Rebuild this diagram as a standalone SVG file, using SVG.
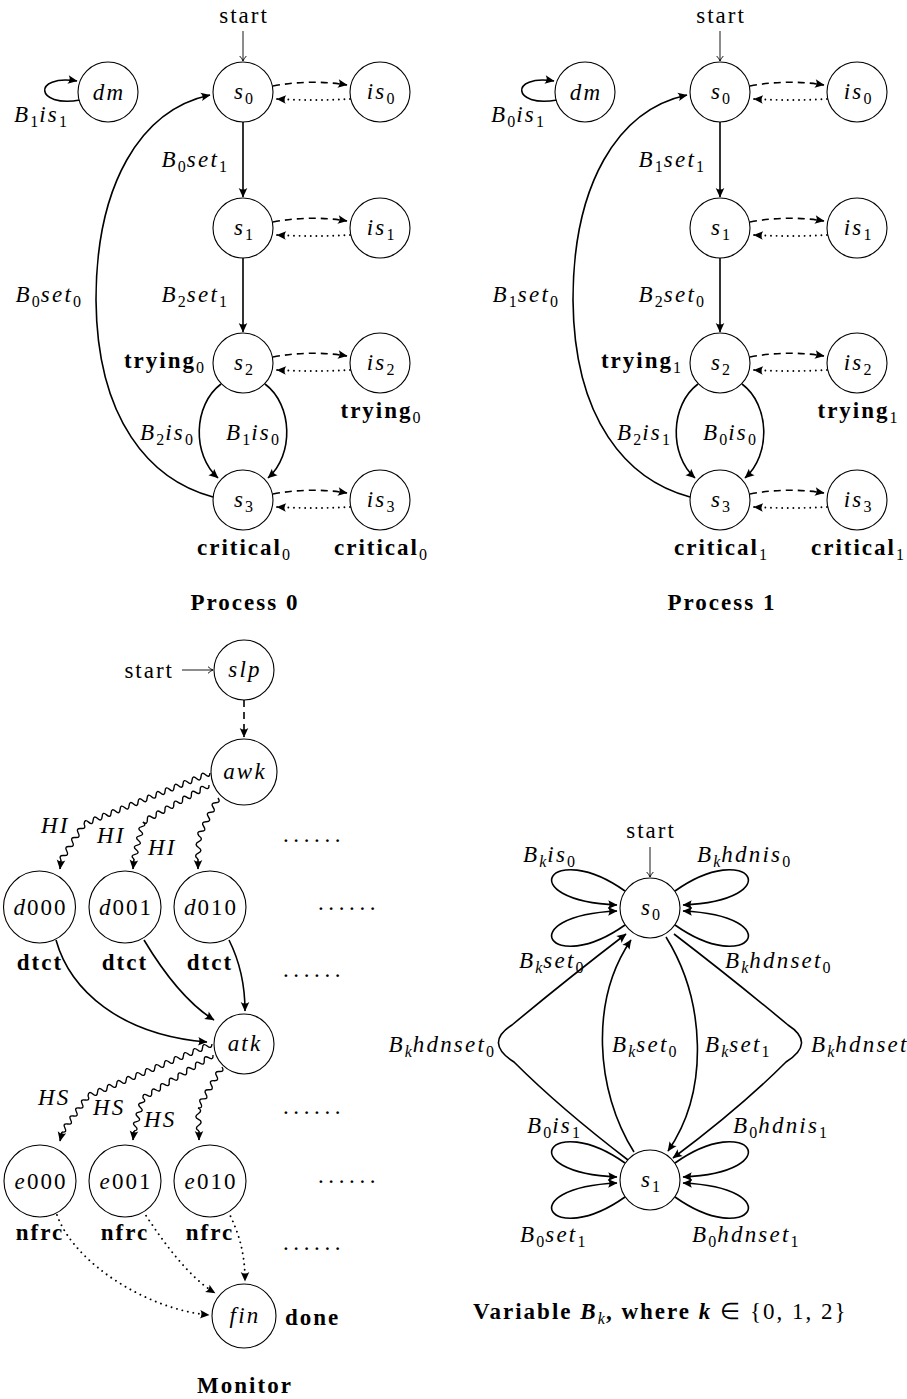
<svg xmlns="http://www.w3.org/2000/svg" width="907" height="1399" viewBox="0 0 907 1399">
<style>
text { font-family: "Liberation Serif", serif; font-size: 23px; fill: #000; letter-spacing: 2px; }
.m { font-style: italic; letter-spacing: 2.2px; }
.r { font-style: normal; }
.b { font-weight: bold; letter-spacing: 2px; }
.n { font-style: normal; font-weight: normal; font-size: 16px; letter-spacing: 1px; }
.k { font-style: italic; font-weight: normal; font-size: 16px; letter-spacing: 1px; }
.c { text-anchor: middle; }
.e { text-anchor: end; }
.dots { letter-spacing: 4.6px; }
.nd { fill: #fff; stroke: #000; stroke-width: 1.1; }
.ed { fill: none; stroke: #000; stroke-width: 1.6; }
.da { stroke-dasharray: 7 5; }
.do { stroke-dasharray: 0.01 5.6; stroke-linecap: round; stroke-width: 1.9; }
.th { fill: none; stroke: #000; stroke-width: 0.9; }
.wv { fill: none; stroke: #000; stroke-width: 1.4; }
</style>
<defs>
<marker id="ah" viewBox="-10 -6 12 12" refX="0" refY="0" markerWidth="12" markerHeight="12" markerUnits="userSpaceOnUse" orient="auto">
<path d="M0.5,0 L-9,-4.3 Q-6,0 -9,4.3 Z" fill="#000"/>
</marker>
<marker id="ao" viewBox="-7 -5 8 10" refX="0" refY="0" markerWidth="8" markerHeight="10" markerUnits="userSpaceOnUse" orient="auto">
<path d="M-5,-3.3 Q-2,-0.6 0,0 Q-2,0.6 -5,3.3" fill="none" stroke="#000" stroke-width="0.9"/>
</marker>
</defs>

<g id="process0">
<g id="p0-connectors">
<path class="th" d="M243,31 L243,61" marker-end="url(#ao)"/>
<path class="ed" d="M80,100 C35,108 32,74 77,81" marker-end="url(#ah)"/>
<path class="ed" d="M243,122 L243,197" marker-end="url(#ah)"/>
<path class="ed" d="M243,258 L243,332" marker-end="url(#ah)"/>
<path class="ed" d="M221,384 C193,405 192,455 218,478" marker-end="url(#ah)"/>
<path class="ed" d="M265,384 C293,405 294,455 268,478" marker-end="url(#ah)"/>
<path class="ed" d="M213,497 C150,480 97,420 96,300 C96,185 140,110 210,95" marker-end="url(#ah)"/>
<path class="ed da" d="M273,86 Q310,79 347,85" marker-end="url(#ah)"/>
<path class="ed do" d="M350,99 Q314,101 277,99" marker-end="url(#ah)"/>
<path class="ed da" d="M273,222 Q310,215 347,221" marker-end="url(#ah)"/>
<path class="ed do" d="M350,235 Q314,237 277,235" marker-end="url(#ah)"/>
<path class="ed da" d="M273,357 Q310,350 347,356" marker-end="url(#ah)"/>
<path class="ed do" d="M350,370 Q314,372 277,370" marker-end="url(#ah)"/>
<path class="ed da" d="M273,494 Q310,487 347,493" marker-end="url(#ah)"/>
<path class="ed do" d="M350,507 Q314,509 277,507" marker-end="url(#ah)"/>
</g>
<g id="p0-dm"><circle class="nd" cx="108" cy="92" r="30"/><text class="m c" x="109" y="100">dm</text></g>
<g id="p0-s0"><circle class="nd" cx="243" cy="92" r="30"/><text class="m c" x="244" y="99">s<tspan class="n" dy="5">0</tspan></text></g>
<g id="p0-is0"><circle class="nd" cx="380" cy="92" r="30"/><text class="m c" x="381" y="99">is<tspan class="n" dy="5">0</tspan></text></g>
<g id="p0-s1"><circle class="nd" cx="243" cy="228" r="30"/><text class="m c" x="244" y="235">s<tspan class="n" dy="5">1</tspan></text></g>
<g id="p0-is1"><circle class="nd" cx="380" cy="228" r="30"/><text class="m c" x="381" y="235">is<tspan class="n" dy="5">1</tspan></text></g>
<g id="p0-s2"><circle class="nd" cx="243" cy="363" r="30"/><text class="m c" x="244" y="370">s<tspan class="n" dy="5">2</tspan></text></g>
<g id="p0-is2"><circle class="nd" cx="380" cy="363" r="30"/><text class="m c" x="381" y="370">is<tspan class="n" dy="5">2</tspan></text></g>
<g id="p0-s3"><circle class="nd" cx="243" cy="500" r="30"/><text class="m c" x="244" y="507">s<tspan class="n" dy="5">3</tspan></text></g>
<g id="p0-is3"><circle class="nd" cx="380" cy="500" r="30"/><text class="m c" x="381" y="507">is<tspan class="n" dy="5">3</tspan></text></g>
<g id="p0-labels">
<text class="r c" x="244" y="23">start</text>
<text class="m" x="14" y="122">B<tspan class="n" dy="5">1</tspan><tspan dy="-5">is</tspan><tspan class="n" dy="5">1</tspan></text>
<text class="m e" x="228" y="167">B<tspan class="n" dy="5">0</tspan><tspan dy="-5">set</tspan><tspan class="n" dy="5">1</tspan></text>
<text class="m e" x="228" y="302">B<tspan class="n" dy="5">2</tspan><tspan dy="-5">set</tspan><tspan class="n" dy="5">1</tspan></text>
<text class="m e" x="82" y="302">B<tspan class="n" dy="5">0</tspan><tspan dy="-5">set</tspan><tspan class="n" dy="5">0</tspan></text>
<text class="b e" x="205" y="368">trying<tspan class="n" dy="5">0</tspan></text>
<text class="b c" x="381" y="418">trying<tspan class="n" dy="5">0</tspan></text>
<text class="m e" x="194" y="440">B<tspan class="n" dy="5">2</tspan><tspan dy="-5">is</tspan><tspan class="n" dy="5">0</tspan></text>
<text class="m" x="226" y="440">B<tspan class="n" dy="5">1</tspan><tspan dy="-5">is</tspan><tspan class="n" dy="5">0</tspan></text>
<text class="b c" x="244" y="555">critical<tspan class="n" dy="5">0</tspan></text>
<text class="b c" x="381" y="555">critical<tspan class="n" dy="5">0</tspan></text>
<text class="b c" x="245" y="610">Process 0</text>
</g>
</g>

<g id="process1" transform="translate(477,0)">
<g id="p1-connectors">
<path class="th" d="M243,31 L243,61" marker-end="url(#ao)"/>
<path class="ed" d="M80,100 C35,108 32,74 77,81" marker-end="url(#ah)"/>
<path class="ed" d="M243,122 L243,197" marker-end="url(#ah)"/>
<path class="ed" d="M243,258 L243,332" marker-end="url(#ah)"/>
<path class="ed" d="M221,384 C193,405 192,455 218,478" marker-end="url(#ah)"/>
<path class="ed" d="M265,384 C293,405 294,455 268,478" marker-end="url(#ah)"/>
<path class="ed" d="M213,497 C150,480 97,420 96,300 C96,185 140,110 210,95" marker-end="url(#ah)"/>
<path class="ed da" d="M273,86 Q310,79 347,85" marker-end="url(#ah)"/>
<path class="ed do" d="M350,99 Q314,101 277,99" marker-end="url(#ah)"/>
<path class="ed da" d="M273,222 Q310,215 347,221" marker-end="url(#ah)"/>
<path class="ed do" d="M350,235 Q314,237 277,235" marker-end="url(#ah)"/>
<path class="ed da" d="M273,357 Q310,350 347,356" marker-end="url(#ah)"/>
<path class="ed do" d="M350,370 Q314,372 277,370" marker-end="url(#ah)"/>
<path class="ed da" d="M273,494 Q310,487 347,493" marker-end="url(#ah)"/>
<path class="ed do" d="M350,507 Q314,509 277,507" marker-end="url(#ah)"/>
</g>
<g id="p1-dm"><circle class="nd" cx="108" cy="92" r="30"/><text class="m c" x="109" y="100">dm</text></g>
<g id="p1-s0"><circle class="nd" cx="243" cy="92" r="30"/><text class="m c" x="244" y="99">s<tspan class="n" dy="5">0</tspan></text></g>
<g id="p1-is0"><circle class="nd" cx="380" cy="92" r="30"/><text class="m c" x="381" y="99">is<tspan class="n" dy="5">0</tspan></text></g>
<g id="p1-s1"><circle class="nd" cx="243" cy="228" r="30"/><text class="m c" x="244" y="235">s<tspan class="n" dy="5">1</tspan></text></g>
<g id="p1-is1"><circle class="nd" cx="380" cy="228" r="30"/><text class="m c" x="381" y="235">is<tspan class="n" dy="5">1</tspan></text></g>
<g id="p1-s2"><circle class="nd" cx="243" cy="363" r="30"/><text class="m c" x="244" y="370">s<tspan class="n" dy="5">2</tspan></text></g>
<g id="p1-is2"><circle class="nd" cx="380" cy="363" r="30"/><text class="m c" x="381" y="370">is<tspan class="n" dy="5">2</tspan></text></g>
<g id="p1-s3"><circle class="nd" cx="243" cy="500" r="30"/><text class="m c" x="244" y="507">s<tspan class="n" dy="5">3</tspan></text></g>
<g id="p1-is3"><circle class="nd" cx="380" cy="500" r="30"/><text class="m c" x="381" y="507">is<tspan class="n" dy="5">3</tspan></text></g>
<g id="p1-labels">
<text class="r c" x="244" y="23">start</text>
<text class="m" x="14" y="122">B<tspan class="n" dy="5">0</tspan><tspan dy="-5">is</tspan><tspan class="n" dy="5">1</tspan></text>
<text class="m e" x="228" y="167">B<tspan class="n" dy="5">1</tspan><tspan dy="-5">set</tspan><tspan class="n" dy="5">1</tspan></text>
<text class="m e" x="228" y="302">B<tspan class="n" dy="5">2</tspan><tspan dy="-5">set</tspan><tspan class="n" dy="5">0</tspan></text>
<text class="m e" x="82" y="302">B<tspan class="n" dy="5">1</tspan><tspan dy="-5">set</tspan><tspan class="n" dy="5">0</tspan></text>
<text class="b e" x="205" y="368">trying<tspan class="n" dy="5">1</tspan></text>
<text class="b c" x="381" y="418">trying<tspan class="n" dy="5">1</tspan></text>
<text class="m e" x="194" y="440">B<tspan class="n" dy="5">2</tspan><tspan dy="-5">is</tspan><tspan class="n" dy="5">1</tspan></text>
<text class="m" x="226" y="440">B<tspan class="n" dy="5">0</tspan><tspan dy="-5">is</tspan><tspan class="n" dy="5">0</tspan></text>
<text class="b c" x="244" y="555">critical<tspan class="n" dy="5">1</tspan></text>
<text class="b c" x="381" y="555">critical<tspan class="n" dy="5">1</tspan></text>
<text class="b c" x="245" y="610">Process 1</text>
</g>
</g>

<g id="monitor">
<g id="mon-connectors">
<path class="th" d="M182,670 L213,670" marker-end="url(#ao)"/>
<path class="ed da" d="M244,700 L244,737" marker-end="url(#ah)"/>
<path class="wv" transform="translate(210,773) rotate(157.96)" d="M0,0q2.43,-5 4.85,0t4.85,0t4.85,0t4.85,0t4.85,0t4.85,0t4.85,0t4.85,0t4.85,0t4.85,0t4.85,0t4.85,0t4.85,0t4.85,0t4.85,0t4.85,0t4.85,0t4.85,0t4.85,0t4.85,0t4.85,0t4.85,0t4.85,0t4.85,0t4.85,0t4.85,0t4.85,0t4.85,0"/>
<path class="wv" transform="translate(84,824) rotate(122.6)" d="M0,0q2.67,-5 5.34,0t5.34,0t5.34,0t5.34,0t5.34,0t5.34,0t5.34,0t5.34,0"/>
<path class="ed" d="M61,860 L60,869" marker-end="url(#ah)"/>
<path class="wv" transform="translate(209,785) rotate(150.7)" d="M0,0q2.53,-5 5.05,0t5.05,0t5.05,0t5.05,0t5.05,0t5.05,0t5.05,0t5.05,0t5.05,0t5.05,0t5.05,0t5.05,0t5.05,0t5.05,0t5.05,0"/>
<path class="wv" transform="translate(143,822) rotate(103.7)" d="M0,0q2.38,-5 4.76,0t4.76,0t4.76,0t4.76,0t4.76,0t4.76,0t4.76,0t4.76,0"/>
<path class="ed" d="M134,859 L133,869" marker-end="url(#ah)"/>
<path class="wv" transform="translate(218,798) rotate(116.6)" d="M0,0q2.66,-5 5.31,0t5.31,0t5.31,0t5.31,0t5.31,0t5.31,0t5.31,0t5.31,0"/>
<path class="wv" transform="translate(199,836) rotate(92.5)" d="M0,0q2.88,-5 5.75,0t5.75,0t5.75,0t5.75,0"/>
<path class="ed" d="M198,859 L198,869" marker-end="url(#ah)"/>
<path class="ed" d="M56,940 C70,990 120,1035 207,1042" marker-end="url(#ah)"/>
<path class="ed" d="M144,940 C165,975 190,1005 214,1020" marker-end="url(#ah)"/>
<path class="ed" d="M229,940 C240,962 245,985 245,1011" marker-end="url(#ah)"/>
<path class="wv" transform="translate(212,1044) rotate(157.25)" d="M0,0q2.59,-5 5.17,0t5.17,0t5.17,0t5.17,0t5.17,0t5.17,0t5.17,0t5.17,0t5.17,0t5.17,0t5.17,0t5.17,0t5.17,0t5.17,0t5.17,0t5.17,0t5.17,0t5.17,0t5.17,0t5.17,0t5.17,0t5.17,0t5.17,0t5.17,0t5.17,0t5.17,0"/>
<path class="wv" transform="translate(88,1096) rotate(125.8)" d="M0,0q2.47,-5 4.93,0t4.93,0t4.93,0t4.93,0t4.93,0t4.93,0t4.93,0t4.93,0t4.93,0"/>
<path class="ed" d="M62,1132 L60,1141" marker-end="url(#ah)"/>
<path class="wv" transform="translate(213,1055) rotate(148.4)" d="M0,0q2.57,-5 5.14,0t5.14,0t5.14,0t5.14,0t5.14,0t5.14,0t5.14,0t5.14,0t5.14,0t5.14,0t5.14,0t5.14,0t5.14,0t5.14,0t5.14,0t5.14,0"/>
<path class="wv" transform="translate(143,1098) rotate(105.3)" d="M0,0q2.45,-5 4.89,0t4.89,0t4.89,0t4.89,0t4.89,0t4.89,0t4.89,0"/>
<path class="ed" d="M134,1131 L133,1140" marker-end="url(#ah)"/>
<path class="wv" transform="translate(222,1067) rotate(120.3)" d="M0,0q2.64,-5 5.28,0t5.28,0t5.28,0t5.28,0t5.28,0t5.28,0t5.28,0t5.28,0t5.28,0"/>
<path class="wv" transform="translate(198,1108) rotate(87.5)" d="M0,0q2.88,-5 5.75,0t5.75,0t5.75,0t5.75,0"/>
<path class="ed" d="M199,1131 L199,1140" marker-end="url(#ah)"/>
<path class="ed do" d="M57,1215 C75,1265 150,1310 209,1315" marker-end="url(#ah)"/>
<path class="ed do" d="M143,1211 C165,1245 190,1278 215,1293" marker-end="url(#ah)"/>
<path class="ed do" d="M228,1211 C240,1235 245,1255 245,1281" marker-end="url(#ah)"/>
</g>
<g id="mon-slp"><circle class="nd" cx="244" cy="670" r="30"/><text class="m c" x="245" y="677">slp</text></g>
<g id="mon-awk"><circle class="nd" cx="244" cy="772" r="33"/><text class="m c" x="245" y="779">awk</text></g>
<g id="mon-d000"><circle class="nd" cx="39.5" cy="907" r="36"/><text class="c" x="40.5" y="915"><tspan class="m">d</tspan>000</text></g>
<g id="mon-d001"><circle class="nd" cx="125" cy="907" r="36"/><text class="c" x="126" y="915"><tspan class="m">d</tspan>001</text></g>
<g id="mon-d010"><circle class="nd" cx="210" cy="907" r="36"/><text class="c" x="211" y="915"><tspan class="m">d</tspan>010</text></g>
<g id="mon-atk"><circle class="nd" cx="244" cy="1044" r="30"/><text class="m c" x="245" y="1051">atk</text></g>
<g id="mon-e000"><circle class="nd" cx="40" cy="1181" r="36"/><text class="c" x="41" y="1189"><tspan class="m">e</tspan>000</text></g>
<g id="mon-e001"><circle class="nd" cx="125" cy="1181" r="36"/><text class="c" x="126" y="1189"><tspan class="m">e</tspan>001</text></g>
<g id="mon-e010"><circle class="nd" cx="210" cy="1181" r="36"/><text class="c" x="211" y="1189"><tspan class="m">e</tspan>010</text></g>
<g id="mon-fin"><circle class="nd" cx="244" cy="1316" r="32"/><text class="m c" x="245" y="1323">fin</text></g>
<g id="mon-labels">
<text class="r e" x="174" y="678">start</text>
<text class="m" x="41" y="833">HI</text>
<text class="m" x="97" y="843">HI</text>
<text class="m" x="148" y="855">HI</text>
<text class="b c" x="40" y="970">dtct</text>
<text class="b c" x="125" y="970">dtct</text>
<text class="b c" x="210" y="970">dtct</text>
<text class="m" x="38" y="1105">HS</text>
<text class="m" x="93" y="1115">HS</text>
<text class="m" x="144" y="1127">HS</text>
<text class="b c" x="40" y="1240">nfrc</text>
<text class="b c" x="125" y="1240">nfrc</text>
<text class="b c" x="210" y="1240">nfrc</text>
<text class="b" x="285" y="1325">done</text>
<text class="b c" x="245" y="1393">Monitor</text>
<text class="r dots" x="283" y="842">......</text>
<text class="r dots" x="318" y="910">......</text>
<text class="r dots" x="283" y="977">......</text>
<text class="r dots" x="283" y="1114">......</text>
<text class="r dots" x="318" y="1183">......</text>
<text class="r dots" x="283" y="1250">......</text>
</g>
</g>

<g id="variable">
<g id="var-connectors">
<path class="th" d="M650,847 L650,877" marker-end="url(#ao)"/>
<path class="ed" d="M625,891 C550,838 510,900 617,905" marker-end="url(#ah)"/>
<path class="ed" d="M625,925 C550,978 510,916 617,911" marker-end="url(#ah)"/>
<path class="ed" d="M675,891 C750,838 790,900 683,905" marker-end="url(#ah)"/>
<path class="ed" d="M675,925 C750,978 790,916 683,911" marker-end="url(#ah)"/>
<path class="ed" d="M625,1163 C550,1110 510,1172 617,1177" marker-end="url(#ah)"/>
<path class="ed" d="M625,1197 C550,1250 510,1188 617,1183" marker-end="url(#ah)"/>
<path class="ed" d="M675,1163 C750,1110 790,1172 683,1177" marker-end="url(#ah)"/>
<path class="ed" d="M675,1197 C750,1250 790,1188 683,1183" marker-end="url(#ah)"/>
<path class="ed" d="M628,1160 Q560,1108 514,1062 Q484,1043 512,1025 Q566,980 626,934" marker-end="url(#ah)"/>
<path class="ed" d="M634,1152 C595,1090 590,1000 631,940" marker-end="url(#ah)"/>
<path class="ed" d="M666,937 C705,1000 710,1090 668,1151" marker-end="url(#ah)"/>
<path class="ed" d="M674,934 Q734,980 788,1025 Q816,1043 786,1062 Q740,1108 673,1158" marker-end="url(#ah)"/>
</g>
<g id="var-s0"><circle class="nd" cx="650" cy="908" r="30"/><text class="m c" x="651" y="915">s<tspan class="n" dy="5">0</tspan></text></g>
<g id="var-s1"><circle class="nd" cx="650" cy="1180" r="30"/><text class="m c" x="651" y="1187">s<tspan class="n" dy="5">1</tspan></text></g>
<g id="var-labels">
<text class="r c" x="651" y="838">start</text>
<text class="m" x="523" y="862">B<tspan class="k" dy="5">k</tspan><tspan dy="-5">is</tspan><tspan class="n" dy="5">0</tspan></text>
<text class="m" x="697" y="862">B<tspan class="k" dy="5">k</tspan><tspan dy="-5">hdnis</tspan><tspan class="n" dy="5">0</tspan></text>
<text class="m" x="519" y="968">B<tspan class="k" dy="5">k</tspan><tspan dy="-5">set</tspan><tspan class="n" dy="5">0</tspan></text>
<text class="m" x="725" y="968">B<tspan class="k" dy="5">k</tspan><tspan dy="-5">hdnset</tspan><tspan class="n" dy="5">0</tspan></text>
<text class="m e" x="495" y="1052">B<tspan class="k" dy="5">k</tspan><tspan dy="-5">hdnset</tspan><tspan class="n" dy="5">0</tspan></text>
<text class="m" x="612" y="1052">B<tspan class="k" dy="5">k</tspan><tspan dy="-5">set</tspan><tspan class="n" dy="5">0</tspan></text>
<text class="m" x="705" y="1052">B<tspan class="k" dy="5">k</tspan><tspan dy="-5">set</tspan><tspan class="n" dy="5">1</tspan></text>
<text class="m" x="811" y="1052">B<tspan class="k" dy="5">k</tspan><tspan dy="-5">hdnset</tspan><tspan class="n" dy="5">1</tspan></text>
<text class="m" x="527" y="1133">B<tspan class="n" dy="5">0</tspan><tspan dy="-5">is</tspan><tspan class="n" dy="5">1</tspan></text>
<text class="m" x="733" y="1133">B<tspan class="n" dy="5">0</tspan><tspan dy="-5">hdnis</tspan><tspan class="n" dy="5">1</tspan></text>
<text class="m" x="520" y="1242">B<tspan class="n" dy="5">0</tspan><tspan dy="-5">set</tspan><tspan class="n" dy="5">1</tspan></text>
<text class="m" x="692" y="1242">B<tspan class="n" dy="5">0</tspan><tspan dy="-5">hdnset</tspan><tspan class="n" dy="5">1</tspan></text>
<text class="b" x="473" y="1319">Variable <tspan class="m">B</tspan><tspan class="k" dy="5">k</tspan><tspan dy="-5">, where </tspan><tspan class="m">k</tspan><tspan class="r" font-weight="normal"> ∈ {0, 1, 2}</tspan></text>
</g>
</g>
</svg>
